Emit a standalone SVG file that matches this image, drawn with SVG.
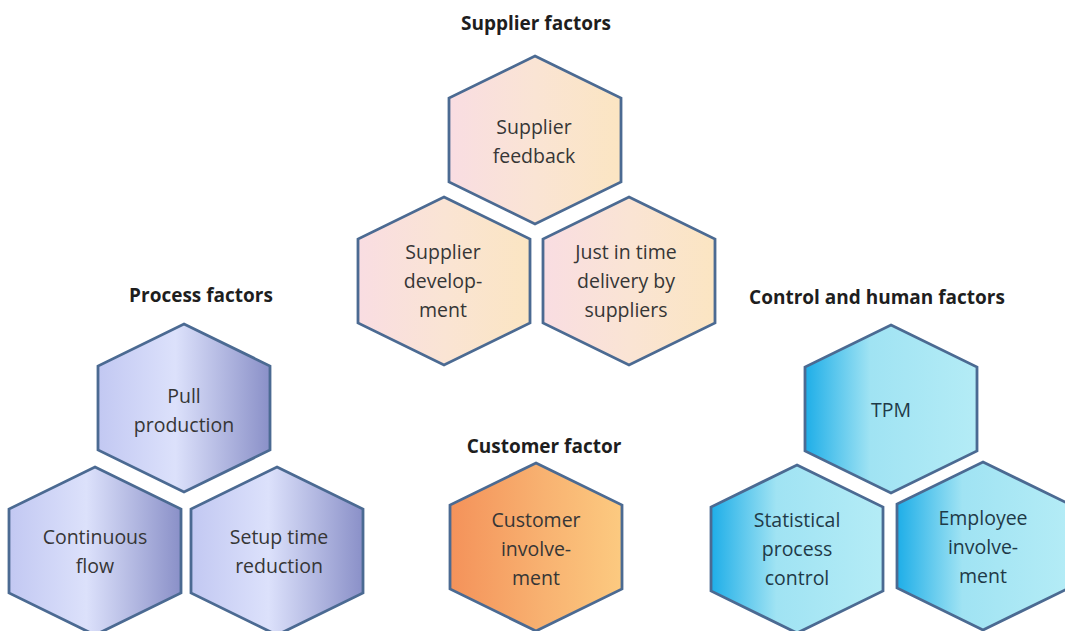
<svg xmlns="http://www.w3.org/2000/svg" xmlns:xlink="http://www.w3.org/1999/xlink" width="1065" height="631" viewBox="0 0 1065 631">
  <defs>
    <!-- flattened pointy-top hexagon, centred on the origin -->
    <polygon id="hex" points="0,-84 86,-42 86,42 0,84 -86,42 -86,-42"/>
    <linearGradient id="g-supplier" x1="0" y1="0" x2="1" y2="0">
      <stop offset="0" stop-color="#f9dde2"/>
      <stop offset="0.5" stop-color="#fae4d4"/>
      <stop offset="1" stop-color="#fbe5c2"/>
    </linearGradient>
    <linearGradient id="g-process" x1="0" y1="0" x2="1" y2="0">
      <stop offset="0" stop-color="#c2c8f2"/>
      <stop offset="0.45" stop-color="#dce1fb"/>
      <stop offset="1" stop-color="#8a90c8"/>
    </linearGradient>
    <linearGradient id="g-customer" x1="0" y1="0" x2="1" y2="0">
      <stop offset="0" stop-color="#f4925a"/>
      <stop offset="0.55" stop-color="#f8b271"/>
      <stop offset="1" stop-color="#fcca80"/>
    </linearGradient>
    <linearGradient id="g-control" x1="0" y1="0" x2="1" y2="0">
      <stop offset="0" stop-color="#1eaee8"/>
      <stop offset="0.38" stop-color="#a0e3f3"/>
      <stop offset="1" stop-color="#b4ecf6"/>
    </linearGradient>
  </defs>
  <style>
    .hex { stroke: #4b6a92; stroke-width: 2.8; stroke-linejoin: miter; }
    .title { font-family: "Open Sans", "Liberation Sans", sans-serif; font-weight: bold; font-size: 19px; fill: #1e1e1e; text-anchor: middle; }
    .label { font-family: "Open Sans", "Liberation Sans", sans-serif; font-size: 19.5px; fill: #363636; text-anchor: middle; }
    .label.cool { fill: #1f3a48; }
  </style>

  <rect width="1065" height="631" fill="#ffffff"/>

  <!-- group titles -->
  <g id="titles">
    <text class="title" x="536" y="30">Supplier factors</text>
    <text class="title" x="201" y="302">Process factors</text>
    <text class="title" x="544" y="453">Customer factor</text>
    <text class="title" x="877" y="304">Control and human factors</text>
  </g>

  <!-- supplier factors -->
  <g id="supplier-feedback">
    <use xlink:href="#hex" class="hex" fill="url(#g-supplier)" x="535" y="140"/>
    <text class="label" x="534" y="134">Supplier</text>
    <text class="label" x="534" y="163">feedback</text>
  </g>
  <g id="supplier-development">
    <use xlink:href="#hex" class="hex" fill="url(#g-supplier)" x="444" y="281"/>
    <text class="label" x="443" y="259">Supplier</text>
    <text class="label" x="443" y="288">develop-</text>
    <text class="label" x="443" y="317">ment</text>
  </g>
  <g id="jit-delivery">
    <use xlink:href="#hex" class="hex" fill="url(#g-supplier)" x="629" y="281"/>
    <text class="label" x="626" y="259">Just in time</text>
    <text class="label" x="626" y="288">delivery by</text>
    <text class="label" x="626" y="317">suppliers</text>
  </g>

  <!-- process factors -->
  <g id="pull-production">
    <use xlink:href="#hex" class="hex" fill="url(#g-process)" x="184" y="408"/>
    <text class="label" x="184" y="403">Pull</text>
    <text class="label" x="184" y="432">production</text>
  </g>
  <g id="continuous-flow">
    <use xlink:href="#hex" class="hex" fill="url(#g-process)" x="95" y="551"/>
    <text class="label" x="95" y="544">Continuous</text>
    <text class="label" x="95" y="573">flow</text>
  </g>
  <g id="setup-time-reduction">
    <use xlink:href="#hex" class="hex" fill="url(#g-process)" x="277" y="551"/>
    <text class="label" x="279" y="544">Setup time</text>
    <text class="label" x="279" y="573">reduction</text>
  </g>

  <!-- customer factor -->
  <g id="customer-involvement">
    <use xlink:href="#hex" class="hex" fill="url(#g-customer)" x="536" y="547"/>
    <text class="label" x="536" y="527">Customer</text>
    <text class="label" x="536" y="556">involve-</text>
    <text class="label" x="536" y="585">ment</text>
  </g>

  <!-- control and human factors -->
  <g id="tpm">
    <use xlink:href="#hex" class="hex" fill="url(#g-control)" x="891" y="409"/>
    <text class="label cool" x="891" y="417">TPM</text>
  </g>
  <g id="statistical-process-control">
    <use xlink:href="#hex" class="hex" fill="url(#g-control)" x="797" y="549"/>
    <text class="label cool" x="797" y="527">Statistical</text>
    <text class="label cool" x="797" y="556">process</text>
    <text class="label cool" x="797" y="585">control</text>
  </g>
  <g id="employee-involvement">
    <use xlink:href="#hex" class="hex" fill="url(#g-control)" x="983" y="546"/>
    <text class="label cool" x="983" y="525">Employee</text>
    <text class="label cool" x="983" y="554">involve-</text>
    <text class="label cool" x="983" y="583">ment</text>
  </g>
</svg>
